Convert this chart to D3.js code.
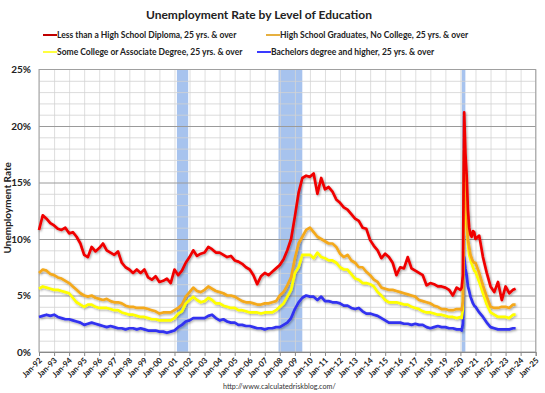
<!DOCTYPE html>
<html>
<head>
<meta charset="utf-8">
<script src="https://cdn.jsdelivr.net/npm/d3@7.9.0/dist/d3.min.js"></script>
<style>
  body { margin: 0; background: #fff; }
  svg { display: block; font-family: Lato, "Open Sans", sans-serif; }
</style>
</head>
<body>
<div id="chart"></div>
<script>
// Unemployment rate by level of education, 25 yrs. & over (percent)
// quarterly points (Jan, Apr, Jul, Oct) 1992-2019, monthly for 2020, quarterly 2021-Jul 2023, then Sep 2023

const seriesNames = [
  'Less than a High School Diploma, 25 yrs. & over',
  'High School Graduates, No College, 25 yrs. & over',
  'Some College or Associate Degree, 25 yrs. & over',
  'Bachelors degree and higher, 25 yrs. & over'
];
const seriesColors = ['#f00000', '#f4a91c', '#ffff00', '#3030f0'];
const legendColors = ['#c00000', '#e6b040', '#ffff40', '#3a3aff'];

const recessions = [['2001-03-01', '2001-11-30'], ['2007-12-01', '2009-06-30'], ['2020-02-01', '2020-04-30']];

const yTicks = [0, 5, 10, 15, 20, 25];
const xTickYears = d3.range(1992, 2026);

const lessThanHS = [
  10.8, 12.1, 11.8, 11.4,   // 1992
  11.2, 10.9, 10.8, 11.0,   // 1993
  10.5, 10.6, 10.2, 9.6,    // 1994
  8.6, 8.4, 9.3, 8.9,       // 1995
  9.2, 9.6, 9.0, 8.8,       // 1996
  8.6, 8.9, 7.9, 7.5,       // 1997
  7.3, 7.0, 7.3, 7.0,       // 1998
  7.3, 6.6, 6.4, 6.7,       // 1999
  6.2, 6.3, 6.5, 6.1,       // 2000
  7.3, 6.8, 7.2, 7.9,       // 2001
  8.4, 9.0, 8.5, 8.7,       // 2002
  8.8, 9.3, 9.1, 8.8,       // 2003
  8.8, 8.6, 8.4, 8.5,       // 2004
  8.1, 8.0, 7.8, 7.5,       // 2005
  7.3, 6.8, 6.0, 6.7,       // 2006
  7.0, 6.8, 7.1, 7.4,       // 2007
  7.7, 8.2, 9.0, 10.0,      // 2008
  12.0, 14.1, 15.4, 15.6,   // 2009
  15.5, 15.8, 14.0, 15.4,   // 2010
  14.4, 14.6, 14.2, 13.5,   // 2011
  13.2, 12.8, 12.6, 12.2,   // 2012
  11.8, 11.6, 11.0, 10.9,   // 2013
  9.9, 9.4, 9.0, 8.3,       // 2014
  8.7, 8.4, 7.9, 6.8,       // 2015
  7.5, 7.4, 8.4, 7.4,       // 2016
  7.2, 7.0, 6.8, 5.9,       // 2017
  6.1, 6.0, 5.8, 5.8,       // 2018
  5.7, 5.5, 5.0, 5.7,       // 2019
  5.5, 5.7, 6.8, 21.2, 17.6, 15.6, 12.6, 11.0, 10.4, 10.2, 10.7, 10.6, // 2020
  10.0, 10.3, 8.4, 7.0,     // 2021
  5.8, 5.3, 6.2, 4.6,       // 2022
  5.8, 5.2, 5.5, 5.6        // 2023
];

const highSchool = [
  7.0, 7.3, 7.2, 6.9,
  6.8, 6.6, 6.5, 6.3,
  6.1, 5.8, 5.5, 5.2,
  5.0, 4.9, 5.0, 4.8,
  4.7, 4.6, 4.7, 4.5,
  4.4, 4.4, 4.3, 4.1,
  4.0, 4.0, 3.9, 3.9,
  3.9, 3.8, 3.7, 3.6,
  3.4, 3.5, 3.5, 3.5,
  3.7, 3.9, 4.2, 4.9,
  5.3, 5.7, 5.4, 5.3,
  5.5, 5.8, 5.6, 5.4,
  5.3, 5.2, 5.0, 5.0,
  4.9, 4.7, 4.5, 4.4,
  4.4, 4.3, 4.2, 4.2,
  4.3, 4.3, 4.4, 4.5,
  5.0, 5.3, 5.9, 6.6,
  8.3, 9.6, 10.2, 10.8,
  11.0, 10.6, 10.2, 10.0,
  9.8, 9.6, 9.6, 9.3,
  8.7, 8.4, 8.6, 8.1,
  7.9, 7.5, 7.5, 7.1,
  6.8, 6.4, 6.2, 5.7,
  5.6, 5.5, 5.5, 5.4,
  5.3, 5.2, 5.1, 5.0,
  4.9, 4.6, 4.5, 4.4,
  4.3, 4.1, 4.0, 3.8,
  3.8, 3.7, 3.7, 3.8,
  3.8, 3.7, 4.5, 17.8, 15.3, 12.2, 10.0, 9.3, 8.6, 8.3, 8.0, 7.9,
  7.9, 7.0, 5.9, 4.9,
  4.0, 3.9, 3.9, 4.0,
  4.0, 3.9, 4.2, 4.2
];

const someCollege = [
  5.6, 5.8, 5.7, 5.6,
  5.5, 5.5, 5.4, 5.3,
  5.2, 4.8, 4.4, 4.2,
  4.0, 4.2, 4.2, 4.0,
  3.9, 3.9, 3.9, 3.8,
  3.7, 3.7, 3.5, 3.4,
  3.3, 3.3, 3.2, 3.1,
  3.1, 3.0, 2.9, 2.9,
  2.8, 2.8, 2.8, 2.8,
  3.0, 3.4, 3.6, 4.3,
  4.6, 4.9, 4.6, 4.4,
  4.5, 4.8, 4.6, 4.3,
  4.3, 4.1, 4.0, 3.9,
  3.9, 3.7, 3.7, 3.6,
  3.5, 3.5, 3.5, 3.4,
  3.5, 3.5, 3.5, 3.7,
  4.0, 4.3, 4.9, 5.5,
  7.0, 7.5, 8.6, 8.6,
  8.6, 8.3, 8.8, 8.4,
  8.3, 8.1, 8.1, 7.9,
  7.5, 7.3, 7.3, 6.9,
  6.5, 6.4, 6.1, 6.1,
  6.0, 5.8, 5.3, 5.0,
  4.6, 4.4, 4.4, 4.4,
  4.3, 4.2, 4.2, 4.0,
  3.9, 3.8, 3.6, 3.5,
  3.5, 3.4, 3.3, 3.3,
  3.2, 3.1, 3.1, 3.0,
  3.1, 3.0, 3.8, 15.3, 13.2, 11.1, 9.6, 8.6, 8.2, 7.8, 7.5, 7.2,
  7.1, 6.2, 5.2, 4.2,
  3.5, 3.3, 3.1, 3.1,
  3.1, 3.0, 3.3, 3.3
];

const bachelors = [
  3.1, 3.2, 3.3, 3.2,
  3.3, 3.1, 3.0, 2.9,
  2.9, 2.8, 2.7, 2.6,
  2.4, 2.5, 2.6, 2.5,
  2.4, 2.3, 2.2, 2.3,
  2.2, 2.1, 2.1, 2.0,
  2.1, 2.1, 2.0, 2.1,
  2.0, 1.9, 1.9, 1.9,
  1.8, 1.8, 1.7, 1.8,
  1.9, 2.2, 2.4, 2.7,
  2.8, 3.0, 3.0, 3.0,
  3.0, 3.2, 3.3, 3.0,
  2.8, 2.9, 2.7, 2.6,
  2.6, 2.4, 2.4, 2.3,
  2.3, 2.2, 2.1, 2.1,
  2.0, 2.1, 2.1, 2.2,
  2.2, 2.4, 2.6, 3.0,
  3.8, 4.4, 4.8, 5.0,
  4.9, 4.9, 4.6, 4.9,
  4.5, 4.5, 4.4, 4.4,
  4.3, 4.1, 4.1, 3.9,
  3.8, 3.9, 3.6, 3.4,
  3.4, 3.3, 3.2, 3.0,
  2.8, 2.6, 2.6, 2.6,
  2.6, 2.5, 2.5, 2.4,
  2.5, 2.4, 2.4, 2.2,
  2.1, 2.2, 2.3, 2.2,
  2.2, 2.1, 2.1, 2.0,
  2.0, 1.9, 2.5, 8.4, 7.4, 6.8, 5.8, 5.4, 4.9, 4.6, 4.3, 4.1,
  4.0, 3.5, 3.1, 2.6,
  2.2, 2.1, 2.0, 2.0,
  2.0, 2.0, 2.1, 2.1
];

const dates = [
  ...d3.timeMonth.every(3).range(new Date(1992, 0, 1), new Date(2020, 0, 1)),
  ...d3.timeMonth.range(new Date(2020, 0, 1), new Date(2021, 0, 1)),
  ...d3.timeMonth.every(3).range(new Date(2021, 0, 1), new Date(2023, 7, 1)),
  new Date(2023, 8, 1)
];

const allSeries = [lessThanHS, highSchool, someCollege, bachelors];

const width = 545;
const height = 393;
const plot = { left: 39, right: 535.7, top: 69.5, bottom: 352 };

const svg = d3.select('#chart')
  .append('svg')
  .attr('width', width)
  .attr('height', height)
  .attr('viewBox', [0, 0, width, height]);

const defs = svg.append('defs');
const shadow = defs.append('filter').attr('id', 'shadow')
  .attr('x', '-5%').attr('y', '-5%').attr('width', '110%').attr('height', '110%');
shadow.append('feDropShadow')
  .attr('dx', 1).attr('dy', 1.2).attr('stdDeviation', 0.9)
  .attr('flood-color', '#000').attr('flood-opacity', 0.35);

const xScale = d3.scaleTime()
  .domain([new Date(1992, 0, 1), new Date(2025, 0, 1)])
  .range([plot.left, plot.right]);

const yScale = d3.scaleLinear()
  .domain([0, 25])
  .range([plot.bottom, plot.top]);

// recession bars
svg.append('g')
  .selectAll('rect')
  .data(recessions)
  .join('rect')
  .attr('x', d => xScale(new Date(d[0])))
  .attr('width', d => xScale(new Date(d[1])) - xScale(new Date(d[0])))
  .attr('y', plot.top)
  .attr('height', plot.bottom - plot.top)
  .attr('fill', '#a7c3ee');

// vertical gridlines, one per year
svg.append('g')
  .attr('transform', `translate(0, ${plot.bottom})`)
  .call(d3.axisBottom(xScale)
    .tickValues(xTickYears.map(y => new Date(y, 0, 1)))
    .tickFormat('')
    .tickSize(-(plot.bottom - plot.top)))
  .call(g => g.select('.domain').remove())
  .call(g => g.selectAll('line').attr('stroke', '#d6d6d6').attr('stroke-width', 0.8));

// horizontal gridlines, every 1%
svg.append('g')
  .attr('transform', `translate(${plot.left}, 0)`)
  .call(d3.axisLeft(yScale)
    .tickValues(d3.range(1, 25))
    .tickFormat('')
    .tickSize(-(plot.right - plot.left)))
  .call(g => g.select('.domain').remove())
  .call(g => g.selectAll('line')
    .attr('stroke', d => d % 5 === 0 ? '#9a9a9a' : '#d2d2d2')
    .attr('stroke-width', d => d % 5 === 0 ? 1 : 0.8));

// plot frame
svg.append('rect')
  .attr('x', plot.left).attr('y', plot.top)
  .attr('width', plot.right - plot.left).attr('height', plot.bottom - plot.top)
  .attr('fill', 'none').attr('stroke', '#a0a0a0').attr('stroke-width', 1);

// data lines
const line = d3.line()
  .x((d, i) => xScale(dates[i]))
  .y(d => yScale(d));

const linesG = svg.append('g').attr('filter', 'url(#shadow)');
[3, 2, 1, 0].forEach(k => {
  linesG.append('path')
    .datum(allSeries[k])
    .attr('d', line)
    .attr('fill', 'none')
    .attr('stroke', seriesColors[k])
    .attr('stroke-width', 2.7)
    .attr('stroke-linejoin', 'round');
});

// x axis
const xAxis = svg.append('g')
  .attr('transform', `translate(0, ${plot.bottom})`)
  .call(d3.axisBottom(xScale)
    .tickValues(xTickYears.map(y => new Date(y, 0, 1)))
    .tickFormat(d3.timeFormat('%b-%y'))
    .tickSizeOuter(0)
    .tickSize(4));
xAxis.select('.domain').attr('stroke', '#888');
xAxis.selectAll('line').attr('stroke', '#888');
xAxis.selectAll('text')
  .attr('font-family', 'Lato, sans-serif')
  .attr('font-size', 8)
  .attr('font-weight', 'bold')
  .attr('fill', '#222')
  .attr('text-anchor', 'end')
  .attr('y', 0)
  .attr('dy', 0)
  .attr('transform', 'translate(3, 9) rotate(-45)');

// y axis
const yAxis = svg.append('g')
  .attr('transform', `translate(${plot.left}, 0)`)
  .call(d3.axisLeft(yScale)
    .tickValues(yTicks)
    .tickFormat(d => d + '%')
    .tickSize(0)
    .tickPadding(8));
yAxis.select('.domain').remove();
yAxis.selectAll('text')
  .attr('font-family', 'Lato, sans-serif')
  .attr('font-size', 10)
  .attr('font-weight', 'bold')
  .attr('fill', '#222');

svg.append('text')
  .attr('transform', `translate(7, ${(plot.top + plot.bottom) / 2 - 3}) rotate(-90)`)
  .attr('text-anchor', 'middle')
  .attr('dominant-baseline', 'central')
  .attr('font-size', 10)
  .attr('font-weight', 'bold')
  .attr('fill', '#222')
  .text('Unemployment Rate');

// title
svg.append('text')
  .attr('x', 259)
  .attr('y', 19)
  .attr('text-anchor', 'middle')
  .attr('font-size', 12)
  .attr('font-weight', 'bold')
  .attr('fill', '#222')
  .text('Unemployment Rate by Level of Education');

// legend
const legendPos = [[43, 35], [266, 35], [43, 52], [257, 52]];
const legend = svg.append('g')
  .selectAll('g')
  .data(seriesNames)
  .join('g')
  .attr('transform', (d, i) => `translate(${legendPos[i][0]}, ${legendPos[i][1]})`);
legend.append('line')
  .attr('x1', 0).attr('x2', 14)
  .attr('stroke', (d, i) => legendColors[i])
  .attr('stroke-width', 2);
legend.append('text')
  .attr('x', 14)
  .attr('dy', '0.35em')
  .attr('font-size', 8.5)
  .attr('font-weight', 'bold')
  .attr('fill', '#222')
  .text(d => d);

// source
svg.append('text')
  .attr('x', 223)
  .attr('y', 389)
  .attr('font-size', 7.2)
  .attr('fill', '#333')
  .text('http://www.calculatedriskblog.com/');
</script>
</body>
</html>
